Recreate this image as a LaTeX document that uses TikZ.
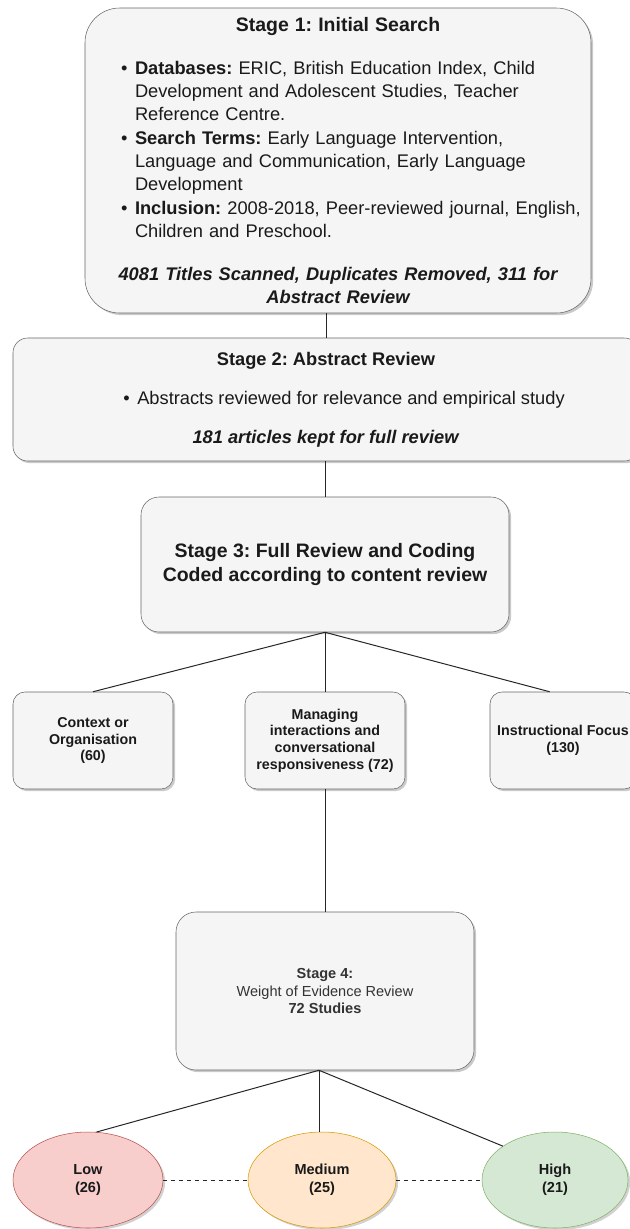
\documentclass[tikz,border=0pt]{standalone}
\usepackage{fontspec}
\setmainfont{Liberation Sans}
\frenchspacing
\definecolor{panel}{HTML}{F5F5F5}
\definecolor{rim}{HTML}{666666}
\definecolor{ink}{HTML}{1A1A1A}
\definecolor{softink}{HTML}{333333}
\definecolor{lowfill}{HTML}{F8CECC}
\definecolor{lowrim}{HTML}{B85450}
\definecolor{midfill}{HTML}{FFE6CC}
\definecolor{midrim}{HTML}{D79B00}
\definecolor{highfill}{HTML}{D5E8D4}
\definecolor{highrim}{HTML}{82B366}
\usetikzlibrary{shadows, shapes.geometric}
\tikzset{
  stage/.style={draw=rim, fill=panel, rounded corners=11pt, align=center, text=ink, inner sep=0pt,
                drop shadow={shadow xshift=1.6pt, shadow yshift=-1.6pt, opacity=.35, fill=black!60}},
  topic/.style={stage, rounded corners=9pt, font=\fontsize{10.7}{12.5}\selectfont\bfseries,
                minimum width=120pt, minimum height=72.75pt},
  grade/.style={ellipse, draw, align=center, text=ink, inner sep=0pt, minimum height=72pt,
                font=\fontsize{10.9}{13.5}\selectfont\bfseries,
                drop shadow={shadow xshift=1.6pt, shadow yshift=-1.6pt, opacity=.3, fill=black!60}},
  link/.style={draw=black!85, line width=.75pt},
  tie/.style={link, dashed},
}
\newcommand{\bitem}[1]{\par\noindent\hangindent=10.5pt\hangafter=1\makebox[10.5pt][l]{\textbullet}#1\par}

\begin{document}
\begin{tikzpicture}[x=.75pt,y=-.75pt,font=\fontsize{13.7}{17.5}\selectfont]
\useasboundingbox (0,0) rectangle (630,1229);
\node[stage, rounded corners=26pt, minimum width=379.5pt, minimum height=228.75pt, text width=325.5pt] (s1) at (338,160.5) {%
  \parindent=0pt
  {\centering\fontsize{14.6}{17.5}\selectfont\bfseries Stage 1: Initial Search\par}
  \vspace{14.8pt}
  {\raggedright
  \bitem{\mbox{\textbf{Databases:} ERIC, British Education Index, Child}\newline
         \mbox{Development and Adolescent Studies, Teacher}\newline
         \mbox{Reference Centre.}}
  \bitem{\mbox{\textbf{Search Terms:} Early Language Intervention,}\newline
         \mbox{Language and Communication, Early Language}\newline
         \mbox{Development}}
  \bitem{\mbox{\textbf{Inclusion:} 2008-2018, Peer-reviewed journal, English,}\newline
         \mbox{Children and Preschool.}}}
  \vspace{14.8pt}
  {\centering\bfseries\itshape \makebox[0pt]{4081 Titles Scanned, Duplicates Removed, 311 for}\\
   Abstract Review\par}};
\node[stage, minimum width=469.5pt, minimum height=92.25pt] (s2) at (326,399.5)
  {\textbf{Stage 2: Abstract Review}\\[11.75pt]
   \hspace*{27pt}\makebox[10.5pt][l]{\textbullet}Abstracts reviewed for relevance and empirical study\\[11.75pt]
   \textbf{\textit{181 articles kept for full review}}};
\node[stage, rounded corners=13.5pt, minimum width=276pt, minimum height=101.25pt,
      font=\fontsize{14.6}{17.25}\selectfont\bfseries] (s3) at (325,564.5)
  {Stage 3: Full Review and Coding\\Coded according to content review};
\node[topic] (ctx) at (93,740.5) {Context or\\Organisation\\(60)};
\node[topic] (mgr) at (325,740.5) {Managing\\interactions and\\conversational\\responsiveness (72)};
\node[topic, minimum width=109.5pt] (ins) at (563,740.5) {Instructional Focus\\(130)};
\node[stage, rounded corners=15pt, minimum width=223.5pt, minimum height=118.5pt, text=softink,
      font=\fontsize{10.9}{13}\selectfont] (s4) at (325,991)
  {\textbf{Stage 4:}\\Weight of Evidence Review\\\textbf{72 Studies}};
\node[grade, fill=lowfill, draw=lowrim, minimum width=112.5pt] (low) at (88,1180) {Low\\(26)};
\node[grade, fill=midfill, draw=midrim, minimum width=111pt] (mid) at (322,1180) {Medium\\(25)};
\node[grade, fill=highfill, draw=highrim, minimum width=109.5pt] (high) at (555,1180) {High\\(21)};
\coordinate (s4b) at ([xshift=-4.5pt]s4.south);
\draw[link] (s2.north |- s1.south) -- (s2.north);
\draw[link] (s3.north |- s2.south) -- (s3.north);
\draw[link] (s3.south) -- (ctx.north);
\draw[link] (s3.south) -- (mgr.north);
\draw[link] (s3.south) -- ([xshift=-10pt]ins.north);
\draw[link] (mgr.south) -- (s4.north);
\draw[link] (s4b) -- (low.80);
\draw[link] (s4b) -- (s4b |- mid.north);
\draw[link] (s4b) -- (high.147);
\draw[tie] (low.east) -- (mid.west);
\draw[tie] (mid.east) -- (high.west);
\end{tikzpicture}
\end{document}
